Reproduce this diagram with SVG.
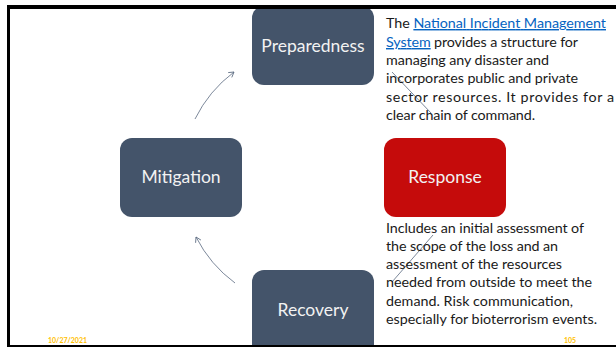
<svg xmlns="http://www.w3.org/2000/svg" width="616" height="348" viewBox="0 0 616 348">
<defs>
<style>
.node{fill:#44546A;}
.red{fill:#C50B0B;}
.lbl{font-family:Lato,"Liberation Sans",sans-serif;font-size:17.5px;fill:#F2F2F2;text-anchor:middle;}
.body{font-family:Lato,"Liberation Sans",sans-serif;font-size:14.3px;fill:#1A1A1A;}
.link{fill:#0563C1;text-decoration:underline;}
.conn{fill:none;stroke:#5A6A80;stroke-width:0.8;}
.foot{font-family:Lato,"Liberation Sans",sans-serif;font-size:7px;font-weight:bold;fill:#FFC000;}
</style>
<marker id="ah" markerWidth="8" markerHeight="8" refX="6" refY="4" orient="auto" markerUnits="userSpaceOnUse">
<path d="M1,1 L6,4 L1,7" fill="none" stroke="#5A6A80" stroke-width="0.8"/>
</marker>
</defs>
<rect width="616" height="348" fill="#FFFFFF"/>
<g id="preparedness">
<rect class="node" x="252" y="6" width="122" height="79" rx="12"/>
<text class="lbl" x="313" y="52">Preparedness</text>
</g>
<g id="mitigation">
<rect class="node" x="120" y="138" width="122" height="79" rx="12"/>
<text class="lbl" x="181" y="183">Mitigation</text>
</g>
<g id="response">
<rect class="red" x="384" y="138" width="122" height="79" rx="12"/>
<text class="lbl" x="445" y="183">Response</text>
</g>
<g id="recovery">
<path class="node" d="M264,270 H362 A12,12 0 0 1 374,282 V346 H252 V282 A12,12 0 0 1 264,270 Z"/>
<text class="lbl" x="313" y="316">Recovery</text>
</g>
<g id="connectors">
<path class="conn" d="M195,119 A131.5,131.5 0 0 1 234,72" marker-end="url(#ah)"/>
<path class="conn" d="M235,283 A131.5,131.5 0 0 1 196,237" marker-end="url(#ah)"/>
<line class="conn" x1="392" y1="72" x2="431" y2="113"/>
<line class="conn" x1="433" y1="235" x2="392" y2="282"/>
</g>
<g id="text-preparedness">
<text class="body" x="386" y="28" textLength="220">The <tspan class="link">National Incident Management</tspan></text>
<text class="body" x="386" y="47" textLength="192"><tspan class="link">System</tspan> provides a structure for</text>
<text class="body" x="386" y="65" textLength="163">managing any disaster and</text>
<text class="body" x="386" y="83" textLength="192">incorporates public and private</text>
<text class="body" x="386" y="102" textLength="228">sector resources. It provides for a</text>
<text class="body" x="386" y="120" textLength="149">clear chain of command.</text>
</g>
<g id="text-response">
<text class="body" x="386" y="233" textLength="198">Includes an initial assessment of</text>
<text class="body" x="386" y="251" textLength="172">the scope of the loss and an</text>
<text class="body" x="386" y="269" textLength="176">assessment of the resources</text>
<text class="body" x="386" y="287" textLength="206">needed from outside to meet the</text>
<text class="body" x="386" y="306" textLength="187">demand. Risk communication,</text>
<text class="body" x="386" y="324" textLength="211">especially for bioterrorism events.</text>
</g>
<text class="foot" x="48" y="343">10/27/2021</text>
<text class="foot" x="564" y="343">105</text>
<g id="frame">
<rect x="7" y="5" width="609" height="4" fill="#000"/>
<rect x="7" y="5" width="3" height="342" fill="#000"/>
<rect x="7" y="345" width="609" height="2" fill="#000"/>
</g>
</svg>
